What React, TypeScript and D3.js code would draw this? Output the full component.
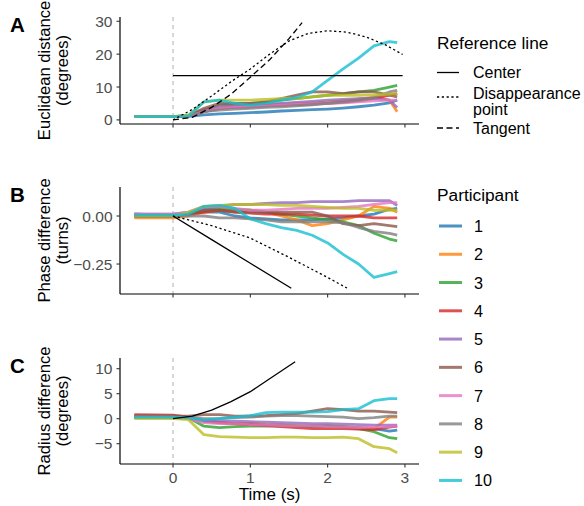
import React from "react";
import * as d3 from "d3";

// sample times (s) shared by all participant series
const times = [-0.5, 0, 0.2, 0.4, 0.6, 0.8, 1.0, 1.2, 1.4, 1.6, 1.8, 2.0, 2.2, 2.4, 2.6, 2.8, 2.9];

const participants = ["1", "2", "3", "4", "5", "6", "7", "8", "9", "10"];
const colors = ["#1f77b4", "#ff7f0e", "#2ca02c", "#d62728", "#9467bd", "#8c564b", "#e377c2", "#7f7f7f", "#bcbd22", "#17becf"];

// Panel A: Euclidean distance (degrees)
const euclid = [
  [1, 1, 1.1, 1.5, 1.8, 2.0, 2.2, 2.4, 2.7, 2.9, 3.1, 3.3, 3.6, 4.0, 4.5, 5.2, 6.0],
  [1, 1, 1.2, 2.5, 3.5, 4.0, 4.2, 4.5, 4.8, 5.0, 5.2, 5.4, 5.8, 6.2, 7.0, 6.0, 2.5],
  [1, 1, 1.3, 3.0, 4.5, 4.8, 5.0, 5.5, 6.0, 6.5, 7.0, 7.5, 8.0, 8.5, 9.0, 10.0, 10.5],
  [1, 1, 1.2, 2.5, 3.5, 3.8, 4.0, 4.3, 4.5, 4.6, 4.8, 5.0, 5.3, 5.8, 6.5, 7.5, 8.0],
  [1, 1, 1.2, 3.0, 4.0, 4.3, 4.5, 4.8, 5.0, 5.3, 5.6, 6.0, 6.2, 6.5, 6.5, 6.0, 3.8],
  [1, 1, 1.3, 3.5, 5.0, 5.0, 5.0, 5.5, 6.5, 7.5, 8.5, 8.5, 8.0, 8.5, 8.5, 7.5, 7.0],
  [1, 1, 1.2, 2.5, 3.5, 3.8, 4.0, 4.2, 4.5, 4.7, 4.9, 5.0, 5.2, 5.5, 5.8, 6.0, 6.0],
  [1, 1, 1.1, 2.5, 3.0, 3.3, 3.5, 3.8, 4.0, 4.3, 4.6, 5.0, 5.5, 6.0, 6.8, 8.5, 9.0],
  [1, 1, 1.5, 5.5, 6.0, 6.0, 6.0, 6.2, 6.5, 6.5, 7.0, 7.5, 7.5, 7.5, 7.6, 7.8, 8.0],
  [1, 1, 1.2, 5.5, 6.0, 5.0, 4.5, 5.0, 6.0, 6.8, 8.5, 12.0, 15.5, 18.8, 22.5, 23.8, 23.5],
];

// Panel B: phase difference (turns)
const phase = [
  [0.01, 0.005, 0.01, 0.02, 0.02, 0.0, -0.01, -0.015, -0.02, -0.02, -0.02, -0.015, -0.01, 0.0, 0.01, 0.035, 0.04],
  [-0.01, -0.01, 0.0, 0.02, 0.03, 0.03, 0.03, 0.02, 0.0, -0.02, -0.05, -0.04, -0.02, 0.0, 0.05, 0.04, 0.02],
  [0.01, 0.005, 0.01, 0.03, 0.04, 0.035, 0.03, 0.02, 0.01, 0.0, -0.01, -0.02, -0.03, -0.05, -0.09, -0.12, -0.13],
  [0.0, 0.0, 0.01, 0.02, 0.03, 0.02, 0.015, 0.01, 0.01, 0.01, 0.005, 0.0, 0.0, 0.0, -0.01, -0.01, -0.01],
  [0.01, 0.01, 0.02, 0.04, 0.05, 0.06, 0.06, 0.065, 0.07, 0.07, 0.075, 0.075, 0.075, 0.08, 0.08, 0.08, 0.055],
  [0.0, 0.0, 0.01, 0.03, 0.03, 0.02, 0.02, 0.02, 0.02, 0.02, 0.02, 0.0, -0.04, -0.05, -0.04, -0.05, -0.055],
  [0.01, 0.01, 0.02, 0.05, 0.05, 0.04, 0.03, 0.03, 0.035, 0.04, 0.04, 0.04, 0.045, 0.05, 0.06, 0.07, 0.07],
  [0.0, 0.0, 0.0, 0.0, -0.01, -0.01, -0.015, -0.02, -0.03, -0.03, -0.03, -0.03, -0.035, -0.06, -0.08, -0.09, -0.1],
  [0.0, 0.0, 0.02, 0.05, 0.055, 0.06, 0.06, 0.06, 0.055, 0.055, 0.05, 0.045, 0.04, 0.04, 0.03, 0.03, 0.03],
  [0.005, 0.005, 0.01, 0.05, 0.055, 0.04, -0.015, -0.04, -0.06, -0.075, -0.1, -0.14, -0.2, -0.25, -0.32, -0.3, -0.29],
];

// Panel C: radius difference (degrees)
const radius = [
  [0.3, 0.3, 0.0, -0.5, -0.8, -1.0, -1.0, -1.2, -1.3, -1.5, -1.6, -1.5, -1.6, -1.8, -2.0, -2.5, -2.3],
  [0.5, 0.5, 0.2, -0.5, -0.8, -1.0, -1.0, -1.2, -1.3, -1.4, -1.5, -1.5, -1.6, -1.8, -2.0, 0.3, 0.3],
  [0.5, 0.5, 0.2, -1.5, -1.8, -1.6, -1.5, -1.5, -1.4, -1.5, -1.5, -1.5, -1.7, -2.0, -2.6, -3.8, -4.0],
  [0.8, 0.7, 0.3, -0.5, -0.8, -1.0, -1.2, -1.4, -1.6, -1.8, -2.0, -2.0, -2.0, -2.1, -2.2, -1.7, -1.5],
  [0.3, 0.3, 0.0, -0.3, -0.5, -0.5, -0.6, -0.7, -0.8, -0.9, -1.0, -1.0, -1.1, -1.2, -1.3, -1.3, -1.3],
  [0.5, 0.5, 0.5, 0.8, 0.8, 0.5, 0.5, 0.6, 0.8, 1.0, 1.5, 2.0, 1.8, 1.5, 1.5, 1.3, 1.2],
  [0.3, 0.3, 0.0, -0.8, -1.0, -1.0, -1.2, -1.3, -1.4, -1.5, -1.5, -1.6, -1.7, -1.8, -1.7, -1.6, -1.5],
  [0.3, 0.3, 0.2, 0.0, 0.0, 0.2, 0.3, 0.5, 0.6, 0.6, 0.5, 0.4, 0.3, 0.0, 0.2, 0.5, 0.5],
  [0.0, 0.0, -0.2, -3.2, -3.6, -3.7, -3.8, -3.8, -3.7, -3.7, -3.8, -3.8, -3.7, -4.0, -5.6, -6.0, -6.8],
  [0.3, 0.3, 0.2, -0.3, 0.0, 0.3, 0.6, 1.2, 1.3, 1.3, 1.3, 1.4, 1.8, 2.0, 3.6, 4.0, 4.0],
];

// reference lines
const centerA_t = [0, 2.97];
const centerA_v = [13.45, 13.45];
const dispA_t = [0, 0.25, 0.5, 0.75, 1.0, 1.25, 1.5, 1.75, 2.0, 2.25, 2.5, 2.75, 2.97];
const dispA_v = [0, 3.2, 7.3, 11.6, 15.5, 20.0, 24.0, 26.3, 27.1, 26.7, 25.2, 22.8, 19.9];
const tanA_t = [0, 0.25, 0.5, 0.75, 1.0, 1.25, 1.5, 1.67];
const tanA_v = [0, 0.8, 3.8, 7.8, 13.0, 18.3, 24.7, 29.6];
const centerB_t = [0, 0.5, 1.0, 1.53];
const centerB_v = [0, -0.123, -0.246, -0.376];
const dispB_t = [0, 0.5, 1.0, 1.5, 2.0, 2.25];
const dispB_v = [0, -0.05, -0.115, -0.215, -0.32, -0.375];
const centerC_t = [0, 0.25, 0.5, 0.75, 1.0, 1.25, 1.58];
const centerC_v = [0, 0.5, 1.7, 3.4, 5.4, 8.0, 11.4];

const refTypes = ["Center", "Disappearance\npoint", "Tangent"];
const refDash = ["none", "2.2,2.6", "6,3.5"];

const FONT = "'Liberation Sans', Arial, sans-serif";
const tickGrey = "#4d4d4d";

const x = d3.scaleLinear().domain([-0.686, 3.182]).range([120, 419]);
const xTicks = [0, 1, 2, 3];

type PanelProps = {
  letter: string;
  title: string[];
  top: number;
  bottom: number;
  domain: [number, number];
  ticks: number[];
  fmt: (v: number) => string;
  series: number[][];
  refs: { t: number[]; v: number[]; dash: string }[];
  showX: boolean;
};

function Panel({ letter, title, top, bottom, domain, ticks, fmt, series, refs, showX }: PanelProps) {
  const y = d3.scaleLinear().domain(domain).range([bottom, top]);
  const line = d3.line<[number, number]>().x((d) => x(d[0])).y((d) => y(d[1]));
  const mid = (top + bottom) / 2;
  return (
    <g>
      <text x={10} y={top + 15} fontFamily={FONT} fontWeight="bold" fontSize={20.5}>{letter}</text>
      <text transform={`translate(50,${mid}) rotate(-90)`} textAnchor="middle" fontFamily={FONT} fontSize={16.6}>
        {title[0]}
      </text>
      <text transform={`translate(68,${mid}) rotate(-90)`} textAnchor="middle" fontFamily={FONT} fontSize={16.6}>
        {title[1]}
      </text>
      <line x1={x(0)} x2={x(0)} y1={top} y2={bottom} stroke="#bebebe" strokeWidth={1.2} strokeDasharray="4,4" />
      {series.map((s, i) => (
        <path key={i} d={line(times.map((t, j) => [t, s[j]] as [number, number])) || ""} fill="none"
          stroke={colors[i]} strokeOpacity={0.8} strokeWidth={2.8} strokeLinejoin="round" />
      ))}
      {refs.map((r, i) => (
        <path key={"r" + i} d={line(r.t.map((t, j) => [t, r.v[j]] as [number, number])) || ""} fill="none"
          stroke="black" strokeWidth={1.3} strokeDasharray={r.dash} />
      ))}
      <line x1={120} x2={120} y1={top} y2={bottom} stroke="black" strokeWidth={1.2} />
      <line x1={120} x2={419} y1={bottom} y2={bottom} stroke="black" strokeWidth={1.2} />
      {ticks.map((t) => (
        <g key={t}>
          <line x1={116.5} x2={120} y1={y(t)} y2={y(t)} stroke="#333" strokeWidth={1.1} />
          <text x={112.5} y={y(t)} dy="0.36em" textAnchor="end" fontFamily={FONT} fontSize={15.5} fill={tickGrey}>{fmt(t)}</text>
        </g>
      ))}
      {xTicks.map((t) => (
        <g key={"x" + t}>
          <line x1={x(t)} x2={x(t)} y1={bottom} y2={bottom + 3.5} stroke="#333" strokeWidth={1.1} />
          {showX && (
            <text x={x(t)} y={bottom + 18.5} textAnchor="middle" fontFamily={FONT} fontSize={15.5} fill={tickGrey}>{t}</text>
          )}
        </g>
      ))}
    </g>
  );
}

export default function App() {
  const fmtB = (v: number) => (v < 0 ? "\u2212" + d3.format(".2f")(-v) : d3.format(".2f")(v));
  const fmtC = (v: number) => (v < 0 ? "\u2212" + -v : String(v));
  return (
    <svg width={584} height={506} style={{ position: "absolute", left: 0, top: 0, background: "white" }}>
      <Panel letter="A" title={["Euclidean distance", "(degrees)"]} top={17} bottom={124} domain={[-1.25, 31.3]}
        ticks={[0, 10, 20, 30]} fmt={(v) => String(v)} series={euclid} showX={false}
        refs={[
          { t: centerA_t, v: centerA_v, dash: refDash[0] },
          { t: dispA_t, v: dispA_v, dash: refDash[1] },
          { t: tanA_t, v: tanA_v, dash: refDash[2] },
        ]} />
      <Panel letter="B" title={["Phase difference", "(turns)"]} top={187} bottom={294} domain={[-0.406, 0.151]}
        ticks={[0, -0.25]} fmt={fmtB} series={phase} showX={false}
        refs={[
          { t: centerB_t, v: centerB_v, dash: refDash[0] },
          { t: dispB_t, v: dispB_v, dash: refDash[1] },
        ]} />
      <Panel letter="C" title={["Radius difference", "(degrees)"]} top={358} bottom={464} domain={[-9.06, 12.14]}
        ticks={[-5, 0, 5, 10]} fmt={fmtC} series={radius} showX={true}
        refs={[{ t: centerC_t, v: centerC_v, dash: refDash[0] }]} />
      <text x={x(1.25)} y={500} textAnchor="middle" fontFamily={FONT} fontSize={17}>Time (s)</text>

      {/* legend: reference line */}
      <text x={437} y={48.5} fontFamily={FONT} fontSize={17.3}>Reference line</text>
      {refTypes.map((r, i) => {
        const cy = [72.5, 97, 128][i];
        const base = [78.3, 98.5, 134][i];
        const lines = r.split("\n");
        return (
          <g key={r}>
            <line x1={437} x2={459} y1={cy} y2={cy} stroke="black" strokeWidth={1.3}
              strokeDasharray={refDash[i]} />
            {lines.map((l, k) => (
              <text key={k} x={473} y={base + k * 16} fontFamily={FONT} fontSize={16}>{l}</text>
            ))}
          </g>
        );
      })}

      {/* legend: participant */}
      <text x={437} y={201} fontFamily={FONT} fontSize={17.3}>Participant</text>
      {participants.map((p, i) => {
        const cy = 226 + i * 28.27;
        return (
          <g key={p}>
            <line x1={439} x2={462} y1={cy} y2={cy} stroke={colors[i]} strokeOpacity={0.8} strokeWidth={3} />
            <text x={474} y={cy + 6} fontFamily={FONT} fontSize={16.2}>{p}</text>
          </g>
        );
      })}
    </svg>
  );
}
